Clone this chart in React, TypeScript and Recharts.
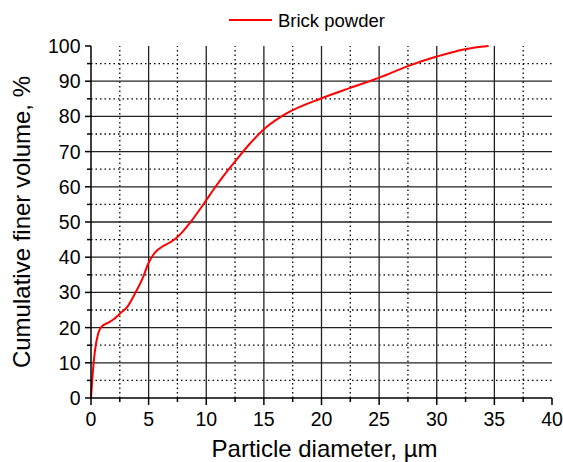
import React from 'react';
import { LineChart, Line, XAxis, YAxis, ReferenceLine } from 'recharts';

// Particle size distribution of brick powder (cumulative finer volume)
const diameterUm = [
  0, 0.2, 0.35, 0.63, 0.92, 1.5, 1.94, 2.52, 3.15, 3.82, 4.54, 4.97, 5.41, 5.8,
  6.13, 6.8, 7.43, 8.0, 8.6, 9.3, 9.98, 10.76, 11.5, 12.35, 13.8, 15.1, 17,
  19.96, 22.5, 25.08, 27.5, 30, 32.45, 34.5,
];
const finerVolume = [
  0, 8.9, 13.6, 18.4, 20.3, 21.4, 22.3, 24, 25.9, 29.7, 34.5, 38.2, 40.7, 42.1,
  42.9, 44.1, 45.5, 47.4, 49.8, 52.9, 56.1, 59.8, 63.1, 66.6, 72.3, 76.6, 80.9,
  85.1, 88.1, 91.1, 94.3, 97.0, 99.1, 100,
];

const xTicks = [0, 2.5, 5, 7.5, 10, 12.5, 15, 17.5, 20, 22.5, 25, 27.5, 30, 32.5, 35, 37.5, 40];
const yTicks = [0, 5, 10, 15, 20, 25, 30, 35, 40, 45, 50, 55, 60, 65, 70, 75, 80, 85, 90, 95, 100];
const xMajorGrid = [5, 10, 15, 20, 25, 30, 35];
const xMinorGrid = [2.5, 7.5, 12.5, 17.5, 22.5, 27.5, 32.5, 37.5];
const yMajorGrid = [10, 20, 30, 40, 50, 60, 70, 80, 90];
const yMinorGrid = [5, 15, 25, 35, 45, 55, 65, 75, 85, 95];

const seriesName = 'Brick powder';
const xTitle = 'Particle diameter, µm';
const yTitle = 'Cumulative finer volume, %';

const data = diameterUm.map((d, i) => ({ d, v: finerVolume[i] }));

const FONT = '"Liberation Sans", Arial, sans-serif';

const XTick = (props: any) => {
  const { x, y, payload } = props;
  const major = payload.value % 5 === 0;
  return (
    <g>
      <line x1={x} x2={x} y1={y} y2={y + (major ? 7 : 4)} stroke="#000" strokeWidth={1.5} />
      {major && (
        <text x={x} y={y + 28} textAnchor="middle" fontSize={19.5} fontFamily={FONT} fill="#000">
          {payload.value}
        </text>
      )}
    </g>
  );
};

const YTick = (props: any) => {
  const { x, y, payload } = props;
  const major = payload.value % 10 === 0;
  return (
    <g>
      <line x1={x} x2={x - (major ? 6 : 4)} y1={y} y2={y} stroke="#000" strokeWidth={1.5} />
      {major && (
        <text x={x - 10.5} y={y} dy="0.36em" textAnchor="end" fontSize={19.5} fontFamily={FONT} fill="#000">
          {payload.value}
        </text>
      )}
    </g>
  );
};

const XTitle = (props: any) => {
  const { viewBox } = props;
  return (
    <text
      x={viewBox.x + viewBox.width / 2 + 3}
      y={viewBox.y + 59}
      textAnchor="middle"
      fontSize={24}
      fontFamily={FONT}
      fill="#000"
    >
      {xTitle}
    </text>
  );
};

const YTitle = (props: any) => {
  const { viewBox } = props;
  const cx = 30;
  const cy = viewBox.y + viewBox.height / 2;
  return (
    <text
      x={cx}
      y={cy}
      transform={`rotate(-90 ${cx} ${cy})`}
      textAnchor="middle"
      fontSize={24}
      fontFamily={FONT}
      fill="#000"
    >
      {yTitle}
    </text>
  );
};

export default function App() {
  return (
    <div style={{ position: 'absolute', left: 0, top: 0, background: '#fff' }}>
      <LineChart
        width={563}
        height={462}
        data={data}
        margin={{ top: 46, right: 11, bottom: 34, left: 31 }}
      >
        <XAxis
          dataKey="d"
          type="number"
          domain={[0, 40]}
          ticks={xTicks}
          interval={0}
          tickSize={0}
          tickMargin={0}
          tickLine={false}
          tick={<XTick />}
          height={30}
          axisLine={{ stroke: '#000', strokeWidth: 1.5 }}
          label={<XTitle />}
        />
        <YAxis
          type="number"
          domain={[0, 100]}
          ticks={yTicks}
          interval={0}
          tickSize={0}
          tickMargin={0}
          tickLine={false}
          tick={<YTick />}
          width={60}
          axisLine={{ stroke: '#000', strokeWidth: 1.5 }}
          label={<YTitle />}
        />
        {yMinorGrid.map((v) => (
          <ReferenceLine key={`ym${v}`} y={v} stroke="#000" strokeWidth={1.3} strokeDasharray="1.5 3" />
        ))}
        {xMinorGrid.map((v) => (
          <ReferenceLine key={`xm${v}`} x={v} stroke="#000" strokeWidth={1.3} strokeDasharray="1.5 3" />
        ))}
        {yMajorGrid.map((v) => (
          <ReferenceLine key={`yM${v}`} y={v} stroke="#222" strokeWidth={1.3} />
        ))}
        {xMajorGrid.map((v) => (
          <ReferenceLine key={`xM${v}`} x={v} stroke="#222" strokeWidth={1.3} />
        ))}
        <Line
          dataKey="v"
          type="monotone"
          stroke="#ff0000"
          strokeWidth={2}
          dot={false}
          isAnimationActive={false}
        />
        <g>
          <line x1={229} x2={272} y1={20} y2={20} stroke="#ff0000" strokeWidth={2} />
          <text x={278} y={27} fontSize={18.5} fontFamily={FONT} fill="#000">
            {seriesName}
          </text>
        </g>
      </LineChart>
    </div>
  );
}
